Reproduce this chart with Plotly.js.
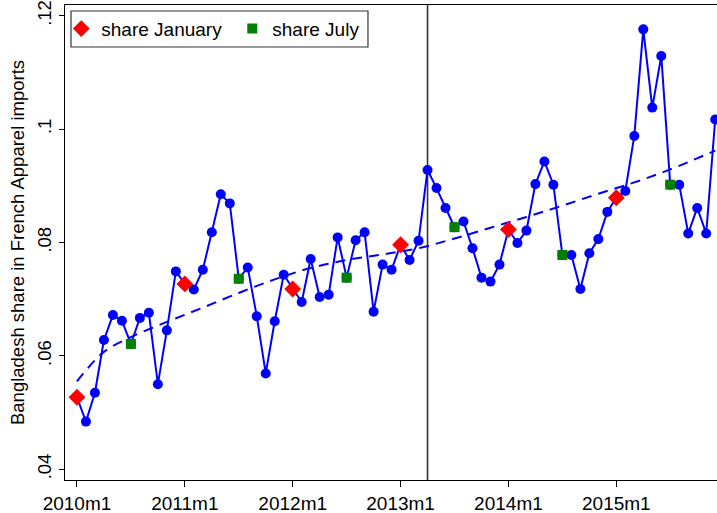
<!DOCTYPE html>
<html>
<head>
<meta charset="utf-8">
<script src="https://cdn.plot.ly/plotly-3.0.1.min.js"></script>
<style>html,body{margin:0;padding:0;background:#fff;}#chart{width:717px;height:513px;}</style>
</head>
<body>
<div id="chart"></div>
<script>
// Month index: 0 = 2010m1 ... 71 = 2015m12
const months = Array.from({length: 72}, (_, i) => i);
const share = [
  0.0527, 0.0484, 0.0535, 0.0628, 0.0672, 0.0662, 0.0621, 0.0667, 0.0676, 0.0550, 0.0645, 0.0749,
  0.0727, 0.0717, 0.0752, 0.0818, 0.0885, 0.0869, 0.0736, 0.0756, 0.0670, 0.0569, 0.0661, 0.0743,
  0.0718, 0.0695, 0.0771, 0.0704, 0.0708, 0.0809, 0.0738, 0.0804, 0.0818, 0.0678, 0.0761, 0.0752,
  0.0796, 0.0769, 0.0803, 0.0928, 0.0896, 0.0861, 0.0827, 0.0837, 0.0790, 0.0738, 0.0731, 0.0761,
  0.0823, 0.0799, 0.0821, 0.0903, 0.0943, 0.0902, 0.0778, 0.0778, 0.0718, 0.0781, 0.0806, 0.0854,
  0.0879, 0.0891, 0.0988, 0.1176, 0.1038, 0.1129, 0.0902, 0.0902, 0.0816, 0.0861, 0.0816, 0.1017
];
// Trend (dashed) at selected months
const trendMonths = [0, 3, 6, 10, 14, 18, 22, 26, 30, 34, 38, 42, 46, 50, 54, 58, 62, 66, 71];
const trendValues = [0.0555, 0.0607, 0.0633, 0.0660, 0.0685, 0.0711, 0.0735, 0.0755, 0.0769, 0.0779, 0.0790, 0.0807, 0.0826, 0.0845, 0.0865, 0.0886, 0.0906, 0.0929, 0.0962];

const janMonths = [0, 12, 24, 36, 48, 60];
const julMonths = [6, 18, 30, 42, 54, 66];
const janShare = janMonths.map(m => share[m]);
const julShare = julMonths.map(m => share[m]);

const xTickVals = [0, 12, 24, 36, 48, 60];
const xTickText = ['2010m1', '2011m1', '2012m1', '2013m1', '2014m1', '2015m1'];
const yTickVals = [0.04, 0.06, 0.08, 0.10, 0.12];
const yTickText = ['.04', '.06', '.08', '.1', '.12'];
const eventMonth = 39; // 2013m4

const FONT = 'Liberation Sans, Arial, sans-serif';

const traces = [
  {x: trendMonths, y: trendValues, type: 'scatter', mode: 'lines', line: {color: '#0000ff', width: 2, dash: '10px,7px', shape: 'spline'}, showlegend: false, hoverinfo: 'skip'},
  {x: months, y: share, type: 'scatter', mode: 'lines+markers', line: {color: '#0000ff', width: 2}, marker: {color: '#0000ff', size: 10}, showlegend: false, cliponaxis: false},
  {x: janMonths, y: janShare, type: 'scatter', mode: 'markers', name: 'share January', marker: {color: '#ff0000', symbol: 'diamond', size: 13}, cliponaxis: false},
  {x: julMonths, y: julShare, type: 'scatter', mode: 'markers', name: 'share July', marker: {color: '#008000', symbol: 'square', size: 10}, cliponaxis: false}
];

const layout = {
  width: 717, height: 513,
  margin: {l: 65, r: 0, t: 5, b: 33},
  paper_bgcolor: '#fff', plot_bgcolor: '#fff',
  font: {family: FONT, size: 19, color: '#000'},
  xaxis: {
    range: [-1.33, 71.2], tickvals: xTickVals, ticktext: xTickText,
    showgrid: false, zeroline: false, showline: true, linecolor: '#000', linewidth: 1.3, mirror: true,
    ticks: 'outside', ticklen: 6, tickcolor: '#000', tickfont: {family: FONT, size: 19}
  },
  yaxis: {
    range: [0.0381, 0.1219], tickvals: yTickVals, ticktext: yTickText, tickangle: -90,
    showgrid: false, zeroline: false, showline: true, linecolor: '#000', linewidth: 1.3,
    ticks: 'outside', ticklen: 5, tickcolor: '#000', tickfont: {family: FONT, size: 18.5},
    title: {text: 'Bangladesh share in French Apparel imports', font: {family: FONT, size: 18.5}, standoff: 4}
  },
  shapes: [
    {type: 'line', xref: 'x', yref: 'paper', x0: eventMonth, x1: eventMonth, y0: 0, y1: 1, line: {color: '#333', width: 1.6}, layer: 'below'},
    {type: 'rect', xref: 'paper', yref: 'paper', x0: 0.0092, x1: 0.4647, y0: 0.9116, y1: 0.9874, line: {color: '#333', width: 1.2}, fillcolor: '#fff', layer: 'below'}
  ],
  legend: {
    orientation: 'h', x: -0.0057, y: 0.99, xanchor: 'left', yanchor: 'top',
    borderwidth: 0, bgcolor: 'rgba(0,0,0,0)', entrywidth: 126,
    font: {family: FONT, size: 19}, itemclick: false
  },
  showlegend: true
};

Plotly.newPlot('chart', traces, layout, {staticPlot: true});
</script>
</body>
</html>
